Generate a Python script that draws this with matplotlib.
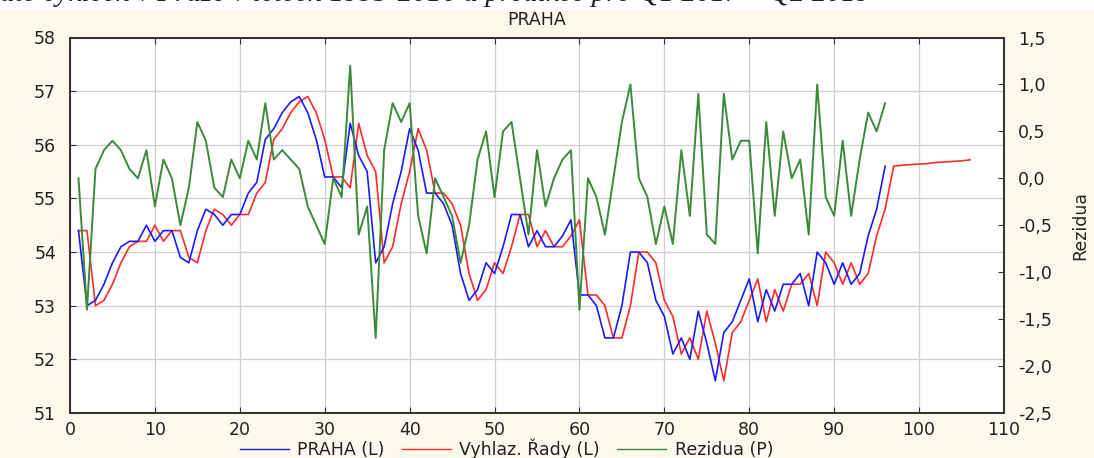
import numpy as np
import matplotlib
matplotlib.use("Agg")
import matplotlib.pyplot as plt
from matplotlib.ticker import FuncFormatter, MultipleLocator
from matplotlib.patches import Rectangle

# --- data -------------------------------------------------------------------
praha = [54.4, 53.0, 53.1, 53.4, 53.8, 54.1, 54.2, 54.2, 54.5, 54.2,
         54.4, 54.4, 53.9, 53.8, 54.4, 54.8, 54.7, 54.5, 54.7, 54.7,
         55.1, 55.3, 56.1, 56.3, 56.6, 56.8, 56.9, 56.6, 56.1, 55.4,
         55.4, 55.2, 56.4, 55.8, 55.5, 53.8, 54.1, 54.9, 55.5, 56.3,
         55.9, 55.1, 55.1, 54.9, 54.5, 53.6, 53.1, 53.3, 53.8, 53.6,
         54.1, 54.7, 54.7, 54.1, 54.4, 54.1, 54.1, 54.3, 54.6, 53.2,
         53.2, 53.0, 52.4, 52.4, 53.0, 54.0, 54.0, 53.8, 53.1, 52.8,
         52.1, 52.4, 52.0, 52.9, 52.3, 51.6, 52.5, 52.7, 53.1, 53.5,
         52.7, 53.3, 52.9, 53.4, 53.4, 53.6, 53.0, 54.0, 53.8, 53.4,
         53.8, 53.4, 53.6, 54.3, 54.8, 55.6]

vyhlaz = [54.4, 54.4, 53.0, 53.1, 53.4, 53.8, 54.1, 54.2, 54.2, 54.5,
          54.2, 54.4, 54.4, 53.9, 53.8, 54.4, 54.8, 54.7, 54.5, 54.7,
          54.7, 55.1, 55.3, 56.1, 56.3, 56.6, 56.8, 56.9, 56.6, 56.1,
          55.4, 55.4, 55.2, 56.4, 55.8, 55.5, 53.8, 54.1, 54.9, 55.5,
          56.3, 55.9, 55.1, 55.1, 54.9, 54.5, 53.6, 53.1, 53.3, 53.8,
          53.6, 54.1, 54.7, 54.7, 54.1, 54.4, 54.1, 54.1, 54.3, 54.6,
          53.2, 53.2, 53.0, 52.4, 52.4, 53.0, 54.0, 54.0, 53.8, 53.1,
          52.8, 52.1, 52.4, 52.0, 52.9, 52.3, 51.6, 52.5, 52.7, 53.1,
          53.5, 52.7, 53.3, 52.9, 53.4, 53.4, 53.6, 53.0, 54.0, 53.8,
          53.4, 53.8, 53.4, 53.6, 54.3, 54.8, 55.6, 55.62, 55.63, 55.64,
          55.65, 55.67, 55.68, 55.69, 55.70, 55.72]

rezidua = [0.0, -1.4, 0.1, 0.3, 0.4, 0.3, 0.1, 0.0, 0.3, -0.3,
           0.2, 0.0, -0.5, -0.1, 0.6, 0.4, -0.1, -0.2, 0.2, 0.0,
           0.4, 0.2, 0.8, 0.2, 0.3, 0.2, 0.1, -0.3, -0.5, -0.7,
           0.0, -0.2, 1.2, -0.6, -0.3, -1.7, 0.3, 0.8, 0.6, 0.8,
           -0.4, -0.8, 0.0, -0.2, -0.4, -0.9, -0.5, 0.2, 0.5, -0.2,
           0.5, 0.6, 0.0, -0.6, 0.3, -0.3, 0.0, 0.2, 0.3, -1.4,
           0.0, -0.2, -0.6, 0.0, 0.6, 1.0, 0.0, -0.2, -0.7, -0.3,
           -0.7, 0.3, -0.4, 0.9, -0.6, -0.7, 0.9, 0.2, 0.4, 0.4,
           -0.8, 0.6, -0.4, 0.5, 0.0, 0.2, -0.6, 1.0, -0.2, -0.4,
           0.4, -0.4, 0.2, 0.7, 0.5, 0.8]

x_data = np.arange(1, len(praha) + 1)
x_fore = np.arange(1, len(vyhlaz) + 1)

C_BLUE = "#1a1aff"
C_RED = "#ff2a2a"
C_GREEN = "#3a8a3a"
BG = "#fcf8ec"
TXT = "#222222"
FS = 12.5

plt.rcParams["font.family"] = ["DejaVu Sans"]

fig = plt.figure(figsize=(10.94, 4.58), dpi=100, facecolor=BG)
# white strip with the clipped caption of the document above
fig.patches.append(Rectangle((0, 1 - 10 / 458), 1, 10 / 458, transform=fig.transFigure,
                             facecolor="white", edgecolor="none", zorder=0))
fig.text(0.0, 1 + 6 / 458,
         "ate cyklech v Praze v letech 1993-2016 a predikce pro Q1 2017 \u2013 Q2 2019",
         family=["Liberation Serif", "DejaVu Serif"], style="italic", fontsize=21,
         color=TXT, ha="left", va="center")

ax = fig.add_axes([70 / 1094, 1 - 413 / 458, 934 / 1094, 375.5 / 458])
ax.set_facecolor("white")
ax2 = ax.twinx()

l1, = ax.plot(x_data, praha, color=C_BLUE, lw=1.2, zorder=3)
l2, = ax.plot(x_fore, vyhlaz, color=C_RED, lw=1.2, zorder=2)
l3, = ax2.plot(x_data, rezidua, color=C_GREEN, lw=1.4)

ax.set_xlim(0, 110)
ax.set_ylim(51, 58)
ax2.set_ylim(-2.5, 1.5)
ax.xaxis.set_major_locator(MultipleLocator(10))
ax.yaxis.set_major_locator(MultipleLocator(1))
ax2.yaxis.set_major_locator(MultipleLocator(0.5))
ax2.yaxis.set_major_formatter(FuncFormatter(lambda v, p: f"{v:.1f}".replace(".", ",")))

ax.grid(True, color="#cfcfcf", lw=0.9)
ax.set_axisbelow(True)
for a in (ax, ax2):
    for s in a.spines.values():
        s.set_color("#333333")
        s.set_linewidth(1.3)
ax.tick_params(direction="in", length=4, color="#333333", top=True, labelsize=FS,
               labelcolor=TXT, pad=6)
ax.tick_params(axis="y", pad=10)
ax2.tick_params(direction="in", length=4, color="#333333", labelsize=FS,
                labelcolor=TXT, pad=10)
ax2.set_ylabel("Rezidua", fontsize=FS, color=TXT, labelpad=14)

ax.set_title("PRAHA", fontsize=FS, color=TXT, pad=9)

fig.legend([l1, l2, l3], ["PRAHA (L)", "Vyhlaz. \u0158ady (L)", "Rezidua (P)"],
           loc="center", bbox_to_anchor=(0.463, 1 - 449 / 458), ncol=3, frameon=False,
           fontsize=FS, handlelength=2.8, columnspacing=1.0, handletextpad=0.5,
           labelcolor=TXT)
# thinner handles like the original legend
for h in fig.legends[0].legend_handles:
    h.set_linewidth(1.0)

fig.savefig("out.png", dpi=100, facecolor=BG)
